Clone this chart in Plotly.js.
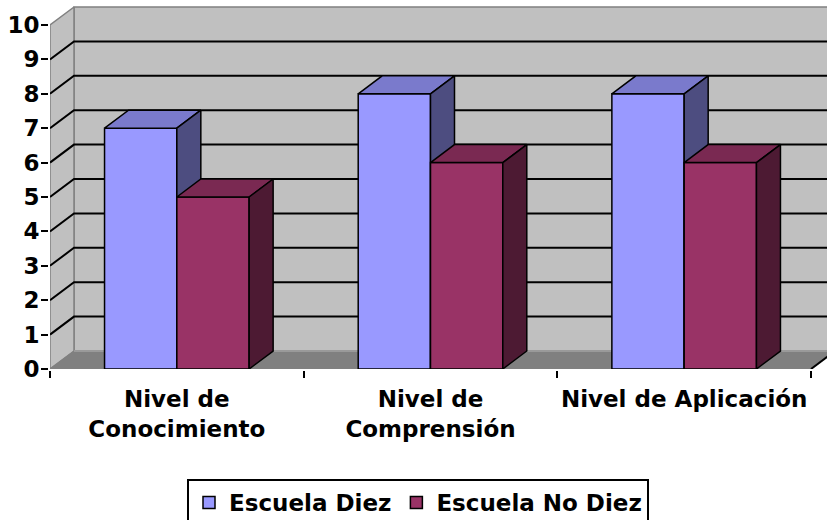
<!DOCTYPE html>
<html>
<head>
<meta charset="utf-8">
<script src="https://cdn.plot.ly/plotly-3.0.1.min.js"></script>
<style>html,body{margin:0;padding:0;background:#fff;}#chart{width:827px;height:520px;}</style>
</head>
<body>
<div id="chart"></div>
<script>
// ---- data ----
const categories = ['Nivel de<br>Conocimiento', 'Nivel de<br>Comprensión', 'Nivel de Aplicación'];
const seriesNames = ['Escuela Diez', 'Escuela No Diez'];
const escuelaDiez = [7, 8, 8];
const escuelaNoDiez = [5, 6, 6];
const yTickVals = [0, 1, 2, 3, 4, 5, 6, 7, 8, 9, 10];

// ---- geometry (pixels of the 827x520 figure) ----
const W = 827, H = 520;
const FX0 = 50, FX1 = 811;   // front x extent
const FY0 = 369, FY1 = 25;   // pixel rows of y=0 and y=10
const DXP = 24, DYP = 18;    // 3D depth offset
const CW = (FX1 - FX0) / 3;
const UY = (FY0 - FY1) / 10;
const DX = DXP / CW, DY = DYP / UY;
const YMAX = 10;
const xEnd = -0.5 + (W - FX0) / CW;
const BARGAP = 0.43;
const bw = (1 - BARGAP) / 2;

const FONT = {family: 'DejaVu Sans', size: 23, color: '#000', weight: 'bold'};
const GRAYLINE = '#808080';

const traces = [];
// ---- decoration subplot (x, y): walls, floor, gridlines ----
const x0b = -0.5 + DX;
traces.push({ // back wall
  x: [x0b, xEnd + 1, xEnd + 1, x0b, x0b], y: [DY, DY, YMAX + DY, YMAX + DY, DY],
  xaxis: 'x', yaxis: 'y', mode: 'lines', fill: 'toself', fillcolor: '#C0C0C0',
  line: {color: GRAYLINE, width: 1.5}, showlegend: false, hoverinfo: 'skip'
});
traces.push({ // left wall
  x: [-0.5, -0.5, x0b, x0b, -0.5], y: [0, YMAX, YMAX + DY, DY, 0],
  xaxis: 'x', yaxis: 'y', mode: 'lines', fill: 'toself', fillcolor: '#C0C0C0',
  line: {color: GRAYLINE, width: 1.5}, showlegend: false, hoverinfo: 'skip'
});
traces.push({ // floor
  x: [-0.5, 2.5, 2.5 + DX, x0b, -0.5], y: [0, 0, DY, DY, 0],
  xaxis: 'x', yaxis: 'y', mode: 'lines', fill: 'toself', fillcolor: '#808080',
  line: {color: GRAYLINE, width: 1}, showlegend: false, hoverinfo: 'skip'
});
traces.push({ // floor back edge
  x: [x0b, xEnd + 1], y: [DY, DY],
  xaxis: 'x', yaxis: 'y', mode: 'lines', line: {color: '#9a9a9a', width: 2},
  showlegend: false, hoverinfo: 'skip'
});
traces.push({ // floor right edge
  x: [2.5, 2.5 + DX], y: [0, DY],
  xaxis: 'x', yaxis: 'y', mode: 'lines', line: {color: '#000', width: 2},
  showlegend: false, hoverinfo: 'skip'
});
// gridlines
const gx = [], gy = [];
yTickVals.filter(v => v > 0 && v < YMAX).forEach(v => {
  gx.push(-0.5, x0b, xEnd + 1, null);
  gy.push(v, v + DY, v + DY, null);
});
traces.push({
  x: gx, y: gy, xaxis: 'x', yaxis: 'y', mode: 'lines',
  line: {color: '#000', width: 2}, showlegend: false, hoverinfo: 'skip'
});

// ---- front subplot (x2, y2): bars ----
const fronts = ['#9999FF', '#993366'];
const tops = ['#7A7ACC', '#7A2952'];
const sides = ['#4D4D80', '#4D1A33'];
[escuelaDiez, escuelaNoDiez].forEach((vals, s) => {
  traces.push({
    type: 'bar', name: seriesNames[s], x: [0, 1, 2], y: vals,
    xaxis: 'x2', yaxis: 'y2', zorder: 2 * s,
    marker: {color: fronts[s], line: {color: '#000', width: 1.5}},
    hoverinfo: 'skip'
  });
  const tx = [], ty = [], sx = [], sy = [];
  vals.forEach((v, i) => {
    const left = s === 0 ? i - bw : i;
    const right = left + bw;
    tx.push(left, right, right + DX, left + DX, left, null);
    ty.push(v, v, v + DY, v + DY, v, null);
    sx.push(right, right, right + DX, right + DX, right, null);
    sy.push(0, v, v + DY, DY, 0, null);
  });
  traces.push({
    x: tx, y: ty, xaxis: 'x2', yaxis: 'y2', mode: 'lines', fill: 'toself',
    fillcolor: tops[s], line: {color: '#000', width: 1.5}, zorder: 2 * s + 1,
    showlegend: false, hoverinfo: 'skip'
  });
  traces.push({
    x: sx, y: sy, xaxis: 'x2', yaxis: 'y2', mode: 'lines', fill: 'toself',
    fillcolor: sides[s], line: {color: '#000', width: 1.5}, zorder: 2 * s + 1,
    showlegend: false, hoverinfo: 'skip'
  });
});

const layout = {
  width: W, height: H,
  margin: {l: 0, r: 0, t: 0, b: 0, autoexpand: false},
  paper_bgcolor: '#fff', plot_bgcolor: 'rgba(0,0,0,0)',
  font: FONT,
  showlegend: true,
  barmode: 'group', bargap: BARGAP, bargroupgap: 0,
  xaxis: {domain: [FX0 / W, 1], range: [-0.5, xEnd], visible: false, fixedrange: true},
  yaxis: {domain: [(H - FY0) / H, 1], range: [0, FY0 / UY], visible: false, fixedrange: true},
  xaxis2: {
    domain: [FX0 / W, FX1 / W], range: [-0.5, 2.5], anchor: 'y2',
    tickmode: 'array', tickvals: [0, 1, 2], ticktext: categories,
    ticks: '', showline: true, linecolor: '#000', linewidth: 2,
    showgrid: false, zeroline: false, tickfont: FONT, ticklabelstandoff: 8,
    minor: {tickmode: 'array', tickvals: [-0.5, 0.5, 1.5, 2.5], ticks: 'outside',
            ticklen: 7, tickwidth: 2, tickcolor: '#000', showgrid: false},
    fixedrange: true
  },
  yaxis2: {
    domain: [(H - FY0) / H, (H - FY1) / H], range: [0, YMAX], anchor: 'x2',
    tickmode: 'array', tickvals: yTickVals, ticks: 'outside', ticklen: 7,
    tickwidth: 2, tickcolor: '#000', showline: true, linecolor: '#000', linewidth: 2,
    showgrid: false, zeroline: false, tickfont: FONT, ticklabelshift: 0,
    ticklabelstandoff: -3, fixedrange: true
  },
  legend: {
    orientation: 'h', xref: 'paper', yref: 'paper',
    x: 418 / W, xanchor: 'center', y: (H - 479) / H, yanchor: 'top',
    bordercolor: '#000', borderwidth: 2, bgcolor: '#fff', font: FONT,
    traceorder: 'normal', itemwidth: 30
  }
};
Plotly.newPlot('chart', traces, layout, {displayModeBar: false, staticPlot: true});
</script>
</body>
</html>
